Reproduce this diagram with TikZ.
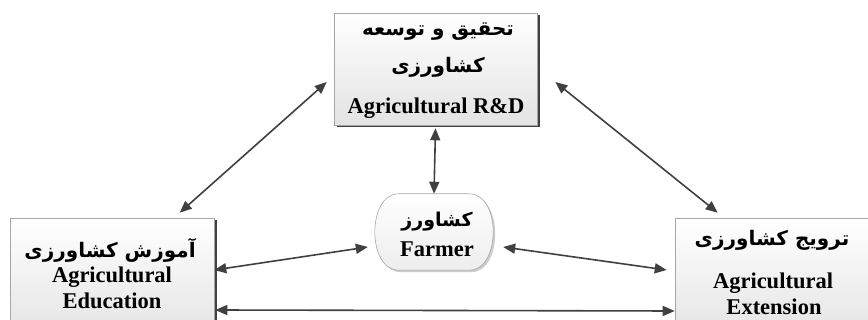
\documentclass[tikz,border=0pt]{standalone}
\usepackage{fontspec}
\setmainfont{Liberation Serif}
\newfontfamily\fafont[Script=Arabic]{DejaVu Sans}
\TeXXeTstate=1
\usetikzlibrary{arrows.meta,shadows,calc}
\begin{document}
\begin{tikzpicture}[x=1pt,y=-1pt,
  box/.style={draw=gray!70, line width=0.6pt, top color=white, bottom color=gray!22,
    drop shadow={shadow xshift=2.5pt,shadow yshift=-2.5pt,fill=black!75,opacity=1}, inner sep=0pt},
  pillarea/.style={minimum width=118pt, minimum height=76pt, inner sep=0pt},
  pillfill/.style={draw=gray!70, line width=0.6pt, top color=white, bottom color=gray!14},
  arr/.style={draw=black!75, line width=1.6pt, {Triangle[length=12pt,width=10pt]}-{Triangle[length=12pt,width=10pt]}},
  en/.style={font=\bfseries\fontsize{22.5}{24}\selectfont, inner sep=0pt},
  fa/.style={font=\fafont\bfseries\fontsize{20}{24}\selectfont, inner sep=0pt}]
\useasboundingbox (0,0) rectangle (868,320);
\clip (0,0) rectangle (868,320);
% boxes
\node[box, minimum width=203pt, minimum height=112pt] (rd) at (435.5,69) {};
\node[box, minimum width=204pt, minimum height=122pt] (edu) at (112,279) {};
\node[box, minimum width=205pt, minimum height=122pt] (ext) at (777.5,279) {};
\node[pillarea] (farmer) at (434,232) {};
% farmer outline (shadow, then shape)
\fill[gray!40] ($(farmer.north west)+(26,2)$) -- ($(farmer.north east)+(-22,2)$)
  .. controls ($(farmer.north east)+(10,2)$) and ($(farmer.south east)+(10,2)$) .. ($(farmer.south east)+(-22,2)$)
  -- ($(farmer.south west)+(26,2)$)
  .. controls ($(farmer.south west)+(-6,2)$) and ($(farmer.north west)+(-6,2)$) .. cycle;
\shade[pillfill] ($(farmer.north west)+(24,0)$) -- ($(farmer.north east)+(-24,0)$)
  .. controls ($(farmer.north east)+(8,0)$) and ($(farmer.south east)+(8,0)$) .. ($(farmer.south east)+(-24,0)$)
  -- ($(farmer.south west)+(24,0)$)
  .. controls ($(farmer.south west)+(-8,0)$) and ($(farmer.north west)+(-8,0)$) .. cycle;
% texts
\node[fa] (rdfa1) at (438,32) {\beginR تحقیق و توسعه\endR};
\node[fa] (rdfa2) at (438,67) {\beginR کشاورزی\endR};
\node[en] (rden) at (436,108) {Agricultural R\&D};
\node[fa] (edufa) at (110,250) {\beginR آموزش کشاورزی\endR};
\node[en] (eduen1) at (112,277) {Agricultural};
\node[en] (eduen2) at (112,301) {Education};
\node[fa] (extfa) at (772,240) {\beginR ترویج کشاورزی\endR};
\node[en] (exten1) at (773,283) {Agricultural};
\node[en] (exten2) at (774,307) {Extension};
\node[fa, font=\fafont\bfseries\fontsize{19}{22}\selectfont] (farmerfa) at (437,222) {\beginR کشاورز\endR};
\node[en] (farmeren) at (437,249) {Farmer};
% connectors
\draw[arr] ($(rd.west)+(-7,13)$) -- ($(edu.north west)+(170,-5)$);
\draw[arr] ($(rd.east)+(18,13)$) -- ($(ext.north west)+(43,-5)$);
\draw[arr] ($(rd.south)+(0,3)$) -- (farmer.north);
\draw[arr] ($(farmer.west)+(-7,15)$) -- ($(edu.east)+(0,-9)$);
\draw[arr] ($(farmer.east)+(10,15)$) -- ($(ext.west)+(-8,-9)$);
\draw[arr] ($(edu.east)+(1,31)$) -- ($(ext.west)+(0,32)$);
\end{tikzpicture}
\end{document}
